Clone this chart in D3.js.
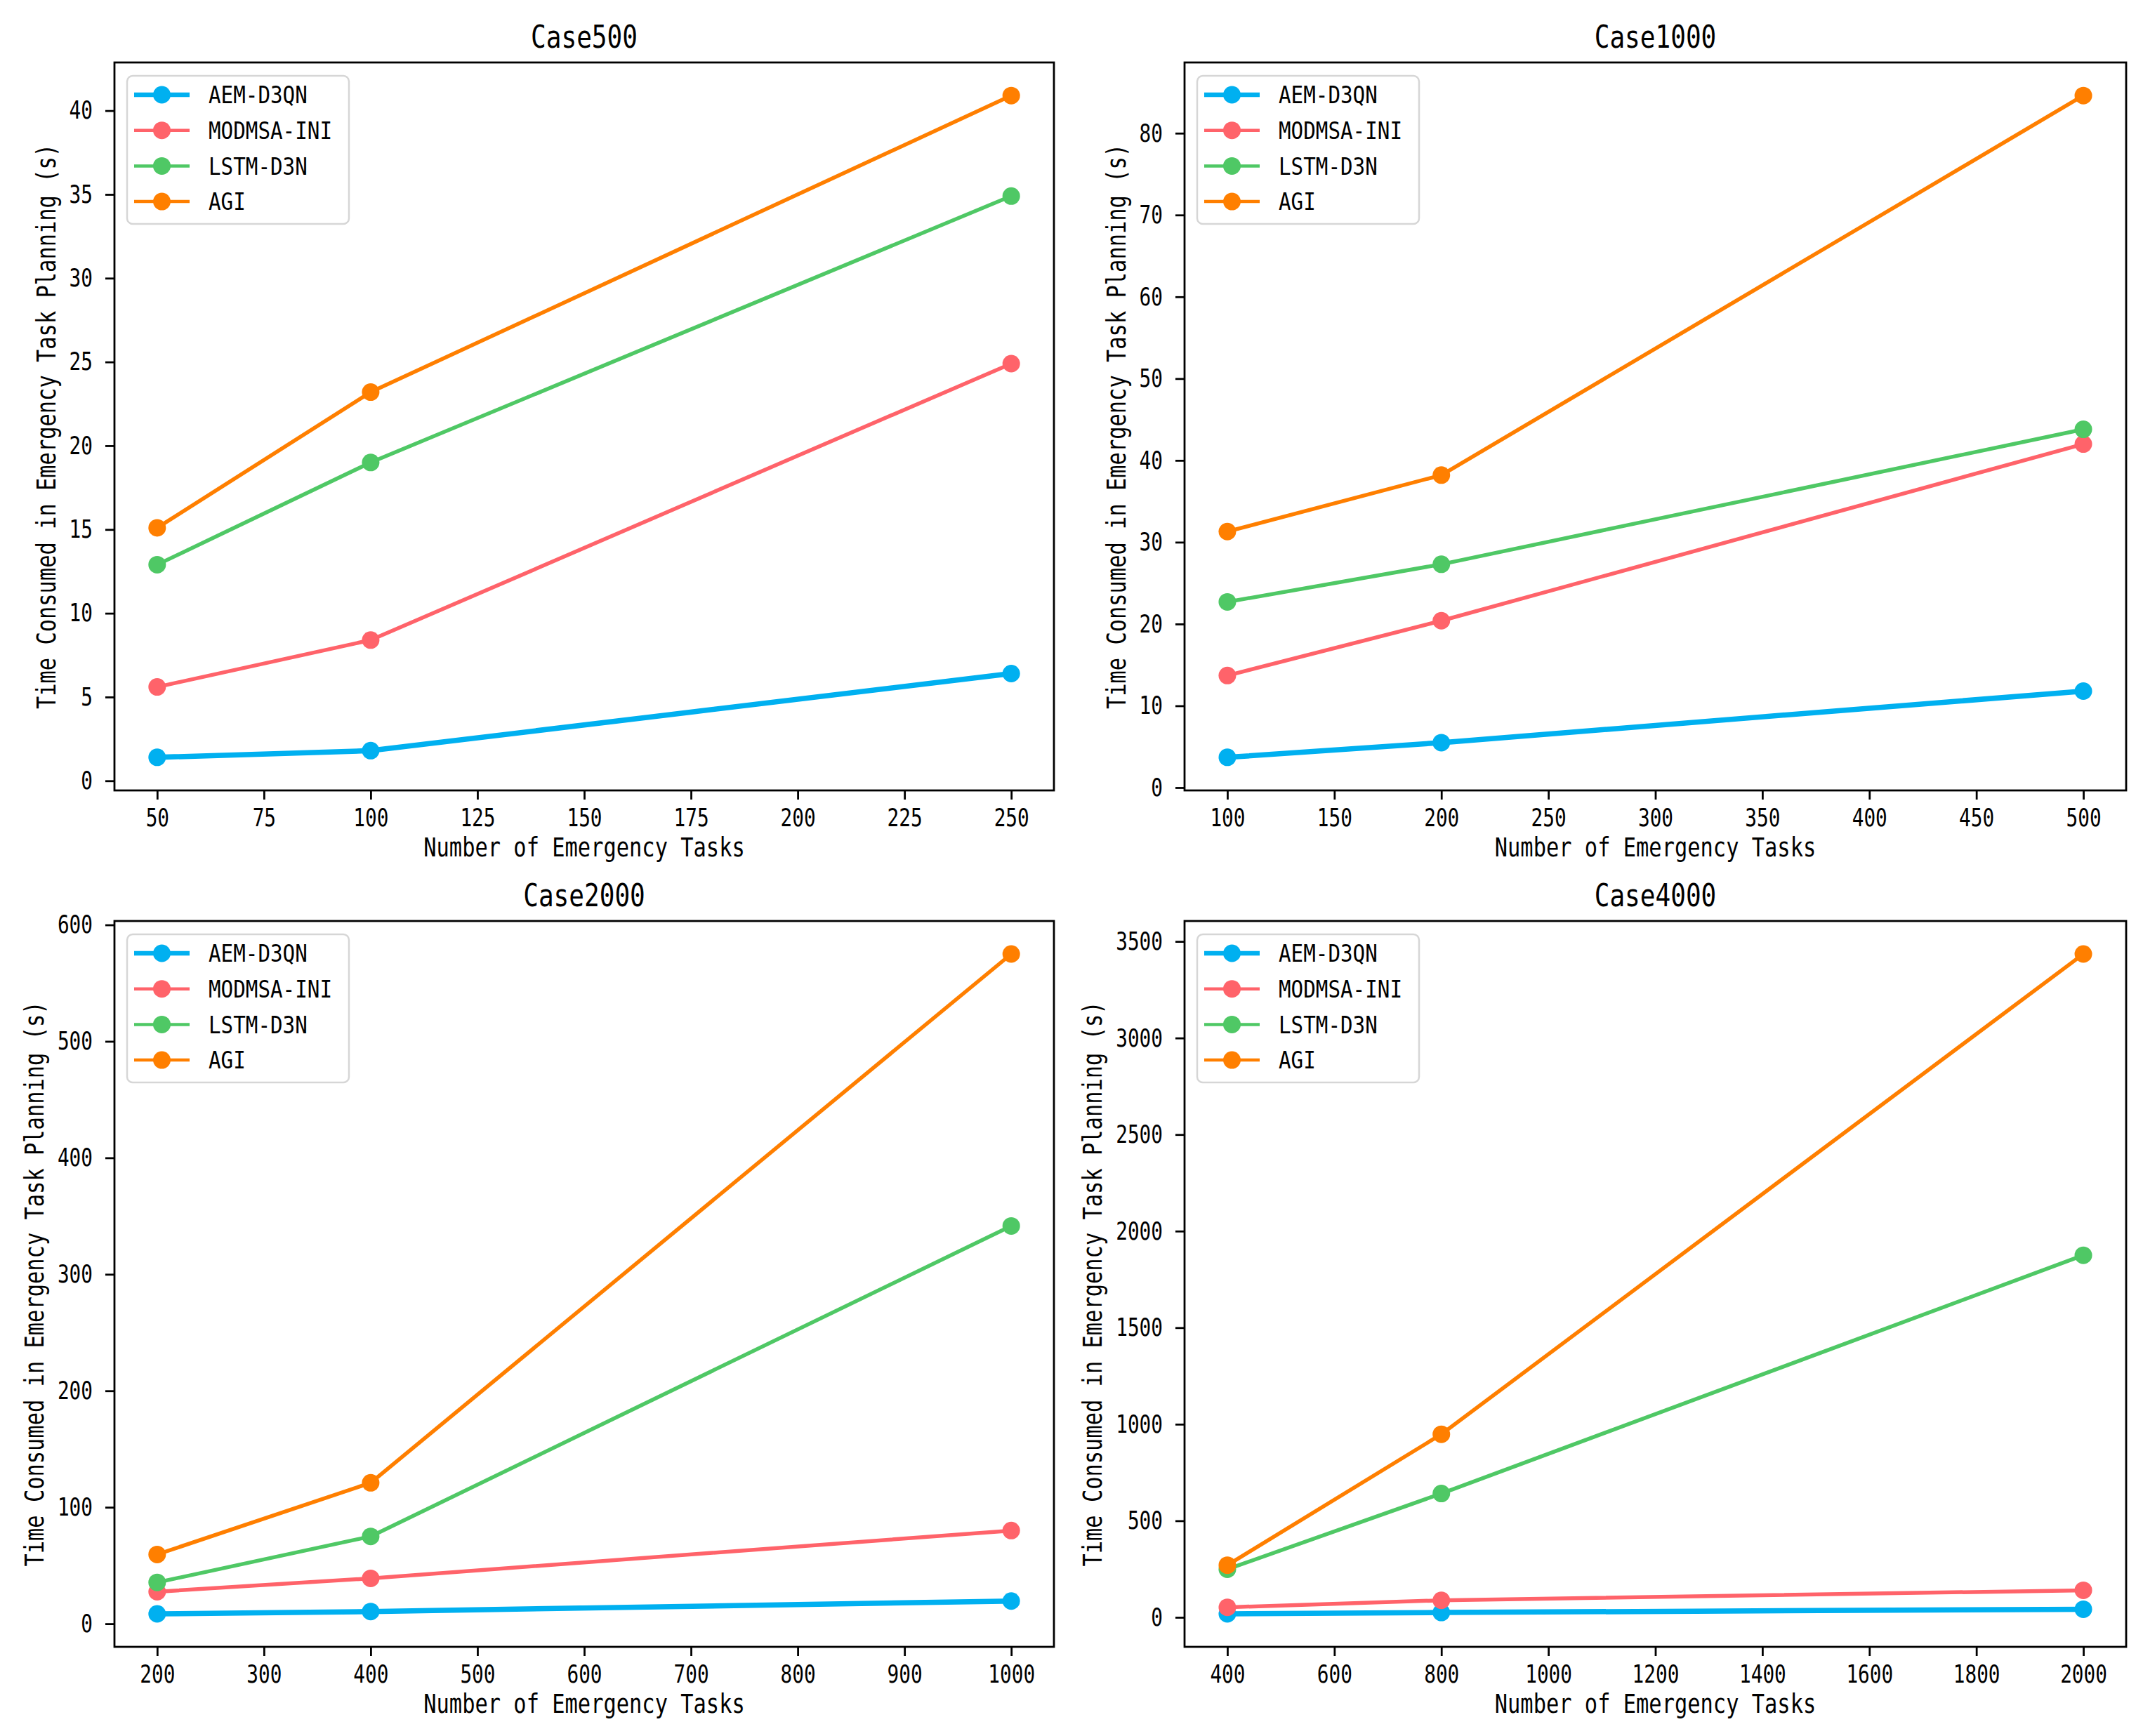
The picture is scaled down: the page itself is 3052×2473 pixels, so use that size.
<!DOCTYPE html>
<html>
<head>
<meta charset="utf-8">
<script src="https://cdn.jsdelivr.net/npm/d3@7"></script>
<style>
  body { margin: 0; background: #fff; }
  text { font-family: "DejaVu Sans Mono", "Liberation Mono", monospace; fill: #000; }
</style>
</head>
<body>
<div id="chart"></div>
<script>
// methods, colours and line widths (same order as the legend)
var methods = ["AEM-D3QN", "MODMSA-INI", "LSTM-D3N", "AGI"];
var colors = ["#00B0F0", "#FF636A", "#4FC865", "#FF7F00"];
var lineWidths = [7.5, 5.5, 5.5, 5.5];

// Case500
var case500Tasks = [50, 100, 250];
var case500AEM = [1.4, 1.8, 6.4];
var case500MODMSA = [5.6, 8.4, 24.9];
var case500LSTM = [12.9, 19.0, 34.9];
var case500AGI = [15.1, 23.2, 40.9];
var case500XTicks = [50, 75, 100, 125, 150, 175, 200, 225, 250];
var case500YTicks = [0, 5, 10, 15, 20, 25, 30, 35, 40];

// Case1000
var case1000Tasks = [100, 200, 500];
var case1000AEM = [3.7, 5.5, 11.8];
var case1000MODMSA = [13.7, 20.4, 42.0];
var case1000LSTM = [22.7, 27.3, 43.8];
var case1000AGI = [31.3, 38.2, 84.6];
var case1000XTicks = [100, 150, 200, 250, 300, 350, 400, 450, 500];
var case1000YTicks = [0, 10, 20, 30, 40, 50, 60, 70, 80];

// Case2000
var case2000Tasks = [200, 400, 1000];
var case2000AEM = [8.5, 10.5, 19.5];
var case2000MODMSA = [27.5, 39.0, 80.0];
var case2000LSTM = [35.5, 75.0, 341.5];
var case2000AGI = [59.5, 121.0, 575.0];
var case2000XTicks = [200, 300, 400, 500, 600, 700, 800, 900, 1000];
var case2000YTicks = [0, 100, 200, 300, 400, 500, 600];

// Case4000
var case4000Tasks = [400, 800, 2000];
var case4000AEM = [18, 25, 42];
var case4000MODMSA = [52, 88, 140];
var case4000LSTM = [249, 641, 1875];
var case4000AGI = [270, 948, 3435];
var case4000XTicks = [400, 600, 800, 1000, 1200, 1400, 1600, 1800, 2000];
var case4000YTicks = [0, 500, 1000, 1500, 2000, 2500, 3000, 3500];

var xLabel = "Number of Emergency Tasks";
var yLabel = "Time Consumed in Emergency Task Planning (s)";

// panels: data + where each axes box sits on the page
var panels = [
    {title: "Case500", x: case500Tasks, series: [case500AEM, case500MODMSA, case500LSTM, case500AGI],
     xTicks: case500XTicks, yTicks: case500YTicks, left: 163, top: 89, right: 1501, bottom: 1126},
    {title: "Case1000", x: case1000Tasks, series: [case1000AEM, case1000MODMSA, case1000LSTM, case1000AGI],
     xTicks: case1000XTicks, yTicks: case1000YTicks, left: 1687, top: 89, right: 3028, bottom: 1126},
    {title: "Case2000", x: case2000Tasks, series: [case2000AEM, case2000MODMSA, case2000LSTM, case2000AGI],
     xTicks: case2000XTicks, yTicks: case2000YTicks, left: 163, top: 1312, right: 1501, bottom: 2346},
    {title: "Case4000", x: case4000Tasks, series: [case4000AEM, case4000MODMSA, case4000LSTM, case4000AGI],
     xTicks: case4000XTicks, yTicks: case4000YTicks, left: 1687, top: 1312, right: 3028, bottom: 2346}
];

const width = 3052;
const height = 2473;

// character widths in px, to mimic the half-width CJK font of the original
const tickCharW = 16.7, legendCharW = 17.6, labelCharW = 18.3, titleCharW = 21.7;

var svg = d3.select("#chart")
    .append("svg")
    .attr("width", width)
    .attr("height", height)
    .attr("viewBox", `0 0 ${width} ${height}`);

svg.append("rect").attr("width", width).attr("height", height).attr("fill", "#fff");

// squeeze text into the fixed cell width
function fitText(sel, charW) {
    sel.attr("textLength", function() { return this.textContent.length * charW; })
       .attr("lengthAdjust", "spacingAndGlyphs");
}

// 5% padding like matplotlib's default
function padded(values) {
    var ext = d3.extent(values);
    var pad = (ext[1] - ext[0]) * 0.05;
    return [ext[0] - pad, ext[1] + pad];
}

panels.forEach(function(p) {

    var w = p.right - p.left;
    var h = p.bottom - p.top;

    var x = d3.scaleLinear()
        .domain(padded(p.x))
        .range([0, w]);

    var y = d3.scaleLinear()
        .domain(padded(d3.merge(p.series)))
        .range([h, 0]);

    var g = svg.append("g")
        .attr("transform", "translate(" + p.left + "," + p.top + ")");

    // x axis
    var xAxis = g.append("g")
        .attr("transform", "translate(0," + h + ")")
        .call(d3.axisBottom(x).tickValues(p.xTicks).tickSize(13).tickPadding(13).tickSizeOuter(0).tickFormat(d3.format("d")));

    // y axis
    var yAxis = g.append("g")
        .call(d3.axisLeft(y).tickValues(p.yTicks).tickSize(13).tickPadding(18).tickSizeOuter(0).tickFormat(d3.format("d")));

    [xAxis, yAxis].forEach(function(ax) {
        ax.select(".domain").remove();
        ax.selectAll(".tick line").attr("stroke", "#000").attr("stroke-width", 2.8);
        ax.selectAll(".tick text")
            .attr("font-family", "DejaVu Sans Mono")
            .attr("font-size", 35.5)
            .attr("fill", "#000")
            .call(fitText, tickCharW);
    });

    // frame
    g.append("rect")
        .attr("width", w)
        .attr("height", h)
        .attr("fill", "none")
        .attr("stroke", "#000")
        .attr("stroke-width", 2.8);

    // lines + markers, drawn series by series
    var line = d3.line()
        .x(function(d, i) { return x(p.x[i]); })
        .y(function(d) { return y(d); });

    p.series.forEach(function(vals, k) {
        g.append("path")
            .datum(vals)
            .attr("d", line)
            .attr("fill", "none")
            .attr("stroke", colors[k])
            .attr("stroke-width", lineWidths[k])
            .attr("stroke-linejoin", "round")
            .attr("stroke-linecap", "square");

        g.append("g")
            .selectAll("circle")
            .data(vals)
            .enter()
            .append("circle")
            .attr("cx", function(d, i) { return x(p.x[i]); })
            .attr("cy", function(d) { return y(d); })
            .attr("r", 12.5)
            .attr("fill", colors[k]);
    });

    // legend
    var legend = g.append("g").attr("transform", "translate(18,19)");
    legend.append("rect")
        .attr("width", 316)
        .attr("height", 211)
        .attr("rx", 8)
        .attr("fill", "#fff")
        .attr("fill-opacity", 0.8)
        .attr("stroke", "#d6d6d6")
        .attr("stroke-width", 2.5);

    var rows = legend.selectAll(".row")
        .data(methods)
        .enter()
        .append("g")
        .attr("class", "row")
        .attr("transform", function(d, i) { return "translate(0," + (27 + i * 50.7) + ")"; });

    rows.append("line")
        .attr("x1", 10).attr("x2", 89)
        .attr("stroke", function(d, i) { return colors[i]; })
        .attr("stroke-width", function(d, i) { return lineWidths[i] - 1; });

    rows.append("circle")
        .attr("cx", 49.5)
        .attr("r", 12.5)
        .attr("fill", function(d, i) { return colors[i]; });

    rows.append("text")
        .attr("x", 116)
        .attr("dy", "0.36em")
        .attr("font-size", 34)
        .text(function(d) { return d; })
        .call(fitText, legendCharW);

    // title
    g.append("text")
        .attr("x", w / 2)
        .attr("y", -21)
        .attr("text-anchor", "middle")
        .attr("font-size", 44)
        .text(p.title)
        .call(fitText, titleCharW);

    // axis labels
    g.append("text")
        .attr("x", w / 2)
        .attr("y", h + 94)
        .attr("text-anchor", "middle")
        .attr("font-size", 37)
        .text(xLabel)
        .call(fitText, labelCharW);

    var maxTickChars = d3.max(p.yTicks, function(d) { return String(d).length; });
    var labelX = -31 - maxTickChars * tickCharW - 20;

    g.append("text")
        .attr("transform", "translate(" + labelX + "," + (h / 2) + ") rotate(-90)")
        .attr("text-anchor", "middle")
        .attr("font-size", 37)
        .text(yLabel)
        .call(fitText, labelCharW);
});
</script>
</body>
</html>
